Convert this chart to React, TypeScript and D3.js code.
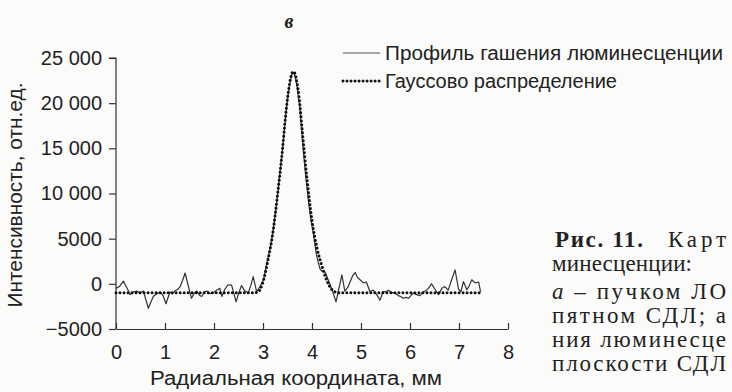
import { useEffect, useRef } from "react";
import * as d3 from "d3";

// профиль гашения (сплошная)
const profileX = [
  0.0, 0.07, 0.15, 0.22, 0.29, 0.35, 0.42, 0.49, 0.56, 0.66, 0.76, 0.83, 0.9, 0.96, 1.02, 1.1, 1.15, 1.2,
  1.26, 1.31, 1.36, 1.41, 1.47, 1.54, 1.6, 1.65, 1.71, 1.75, 1.8, 1.85, 1.92, 1.99, 2.05, 2.12, 2.16, 2.22,
  2.29, 2.36, 2.45, 2.5, 2.56, 2.63, 2.7, 2.75, 2.8, 2.87, 2.94, 3.01, 3.07, 3.14, 3.21, 3.28, 3.35, 3.42,
  3.48, 3.54, 3.6, 3.64, 3.69, 3.75, 3.81, 3.87, 3.93, 3.98, 4.03, 4.09, 4.16, 4.2, 4.27, 4.33, 4.4, 4.49,
  4.55, 4.61, 4.67, 4.73, 4.78, 4.83, 4.88, 4.93, 4.98, 5.05, 5.11, 5.18, 5.25, 5.32, 5.39, 5.45, 5.5, 5.56,
  5.61, 5.66, 5.71, 5.76, 5.81, 5.86, 5.92, 5.97, 6.02, 6.07, 6.13, 6.2, 6.27, 6.34, 6.39, 6.44, 6.51, 6.58,
  6.65, 6.71, 6.78, 6.85, 6.92, 6.99, 7.04, 7.09, 7.16, 7.21, 7.26, 7.33, 7.4, 7.44,
];
const profileY = [
  -500, -300, 300, -400, -1200, -900, -800, -1000, -800, -2700, -1400, -1100, -900, -1300, -2200, -900, -1100, -800,
  -600, -300, 400, 1200, -100, -1600, -1000, -800, -1300, -1400, -900, -800, -1100, -1000, -700, -500, -1400, -600,
  -100, -150, -2000, -1100, -200, -800, -1000, -200, 800, -850, -300, 450, 2100, 3800, 6000, 9000, 12500, 16000,
  19500, 22000, 23400, 23300, 22000, 19500, 15500, 12000, 9000, 7000, 5500, 3200, 1700, 1400, 1300, 450, -500, -2000,
  -500, 1000, -800, -400, 250, 900, 1250, 700, 450, 100, 200, -850, -700, -1200, -1800, -850, -900, -700,
  -900, -1000, -1100, -1300, -1400, -1600, -1500, -1600, -1300, -1000, -1200, -1300, -900, -700, -400, 0, -600, -1200,
  -500, -300, -700, 450, 1550, -600, -850, 250, -650, -200, 450, 100, 200, -850,
];

// гауссово распределение (пунктир)
const gaussX = [0, 2.8, 2.9, 3.0, 3.1, 3.2, 3.3, 3.4, 3.45, 3.5, 3.56, 3.62, 3.68, 3.74, 3.8, 3.9, 4.0, 4.1, 4.2, 4.3, 4.4, 4.5, 4.6, 7.45];
const gaussY = [-1000, -1000, -900, 200, 2600, 5600, 10000, 15000, 18000, 20500, 22700, 23500, 22700, 20500, 17000, 11500, 7000, 4000, 2000, 400, -600, -950, -1000, -1000];

const xTicks = [0, 1, 2, 3, 4, 5, 6, 7, 8];
const yTicks = [-5000, 0, 5000, 10000, 15000, 20000, 25000];
const yTickLabels = ["\u22125000", "0", "5000", "10 000", "15 000", "20 000", "25 000"];
const legendLabels = ["Профиль гашения люминесценции", "Гауссово распределение"];
const captionLines = ["минесценции:", "пучком ЛО", "пятном СДЛ; а", "ния люминесце", "плоскости СДЛ"];

const W = 732;
const H = 392;
const ink = "#222";
const sans = "'Liberation Sans', Arial, sans-serif";
const serif = "'Liberation Serif', 'Times New Roman', serif";

export default function App() {
  const ref = useRef<SVGSVGElement>(null);

  useEffect(() => {
    if (!ref.current) return;
    const svg = d3.select(ref.current);
    svg.selectAll("*").remove();

    svg.append("rect").attr("width", W).attr("height", H).attr("fill", "#fbfbfa");

    const x = d3.scaleLinear().domain([0, 8]).range([116, 508]);
    const y = d3.scaleLinear().domain([-5000, 25000]).range([329, 58]);

    // оси
    const yAxis = d3
      .axisLeft(y)
      .tickValues(yTicks)
      .tickSize(7)
      .tickPadding(7)
      .tickFormat((_, i) => yTickLabels[i]);
    const gy = svg.append("g").attr("transform", `translate(${x(0)},0)`).call(yAxis);
    gy.select(".domain").attr("d", `M-7,${y(25000)}H0V${y(-5000)}`);

    const xAxis = d3.axisBottom(x).tickValues(xTicks).tickSizeInner(-6).tickSizeOuter(0).tickPadding(16);
    const gx = svg.append("g").attr("transform", `translate(0,${y(-5000)})`).call(xAxis);
    gx.selectAll("text").attr("dy", "0.71em");

    [gx, gy].forEach((g) => {
      g.selectAll("path, line").attr("stroke", "#333").attr("stroke-width", 1.2);
      g.selectAll("text").attr("fill", ink).style("font-family", sans).style("font-size", "20px");
    });

    // кривые
    const gauss = gaussX.map((v, i) => [v, gaussY[i]] as [number, number]);
    const prof = profileX.map((v, i) => [v, profileY[i]] as [number, number]);

    svg
      .append("path")
      .datum(prof)
      .attr("fill", "none")
      .attr("stroke", "#333")
      .attr("stroke-width", 1.2)
      .attr("stroke-linejoin", "round")
      .attr("d", d3.line().x((d) => x(d[0])).y((d) => y(d[1])));

    svg
      .append("path")
      .datum(gauss)
      .attr("fill", "none")
      .attr("stroke", "#111")
      .attr("stroke-width", 3)
      .attr("stroke-linecap", "round")
      .attr("stroke-dasharray", "0.01,4")
      .attr("d", d3.line().x((d) => x(d[0])).y((d) => y(d[1])).curve(d3.curveMonotoneX));

    // легенда
    const legLen = [338, 232];
    const leg = svg.append("g").attr("transform", "translate(343,53)");
    legendLabels.forEach((label, i) => {
      const row = leg.append("g").attr("transform", `translate(0,${i * 28})`);
      row
        .append("line")
        .attr("x1", 0)
        .attr("x2", 37)
        .attr("stroke", i === 0 ? "#555" : "#111")
        .attr("stroke-width", i === 0 ? 1.2 : 3)
        .attr("stroke-linecap", i === 0 ? "butt" : "round")
        .attr("stroke-dasharray", i === 0 ? null : "0.01,4");
      row
        .append("text")
        .attr("x", 42)
        .attr("dy", "0.35em")
        .attr("fill", ink)
        .attr("textLength", legLen[i])
        .attr("lengthAdjust", "spacingAndGlyphs")
        .style("font-family", sans)
        .style("font-size", "20px")
        .text(label);
    });

    // подпись «в»
    svg
      .append("text")
      .attr("x", 289)
      .attr("y", 28)
      .attr("text-anchor", "middle")
      .attr("fill", ink)
      .style("font-family", serif)
      .style("font-style", "italic")
      .style("font-weight", "bold")
      .style("font-size", "20px")
      .text("в");

    // названия осей
    svg
      .append("text")
      .attr("x", 150)
      .attr("y", 385)
      .attr("fill", ink)
      .attr("textLength", 292)
      .attr("lengthAdjust", "spacingAndGlyphs")
      .style("font-family", sans)
      .style("font-size", "20px")
      .text("Радиальная координата, мм");

    svg
      .append("text")
      .attr("transform", "translate(22,195) rotate(-90)")
      .attr("text-anchor", "middle")
      .attr("fill", ink)
      .attr("textLength", 225)
      .attr("lengthAdjust", "spacingAndGlyphs")
      .style("font-family", sans)
      .style("font-size", "20px")
      .text("Интенсивность, отн.ед.");

    // текст подписи к рисунку справа
    const cap = svg.append("g").style("font-family", serif).style("font-size", "23px").attr("fill", ink);
    cap
      .append("text")
      .attr("x", 555)
      .attr("y", 247)
      .attr("textLength", 88)
      .attr("lengthAdjust", "spacing")
      .style("font-weight", "bold")
      .text("Рис. 11.");
    cap
      .append("text")
      .attr("x", 668)
      .attr("y", 247)
      .attr("textLength", 58)
      .attr("lengthAdjust", "spacing")
      .text("Карт");
    const rows = [271, 299, 323, 347, 371];
    const lens = [140, 174, 174, 174, 174];
    captionLines.forEach((t, i) => {
      const el = cap
        .append("text")
        .attr("x", 552)
        .attr("y", rows[i])
        .attr("textLength", lens[i])
        .attr("lengthAdjust", "spacing");
      if (i === 1) {
        el.append("tspan").style("font-style", "italic").text("а");
        el.append("tspan").text(" \u2013 " + t);
      } else {
        el.text(t);
      }
    });
  }, []);

  return (
    <svg
      ref={ref}
      width={W}
      height={H}
      style={{ position: "absolute", left: 0, top: 0, display: "block" }}
    />
  );
}
